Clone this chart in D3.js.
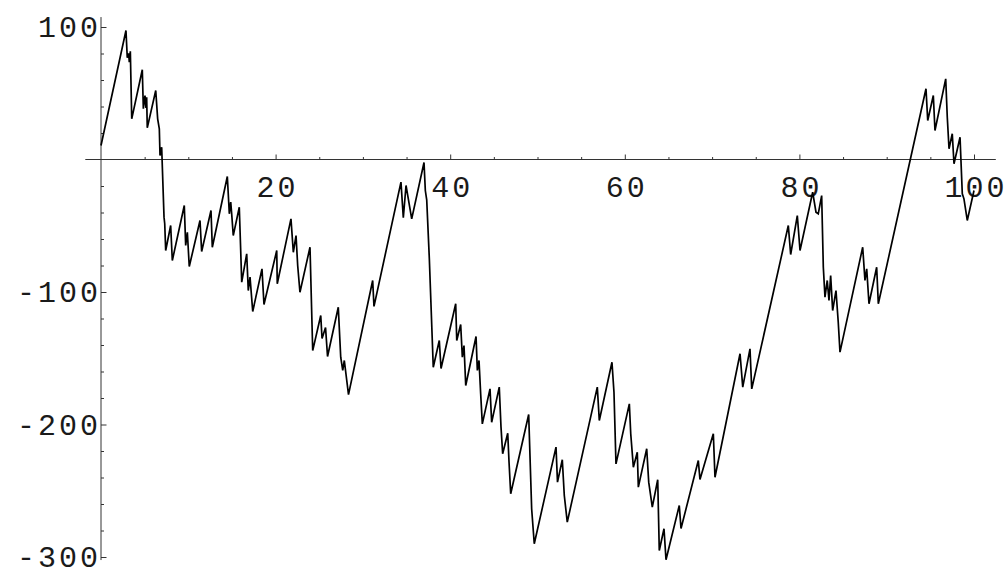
<!DOCTYPE html>
<html>
<head>
<meta charset="utf-8">
<script src="https://cdn.jsdelivr.net/npm/d3@7"></script>
<style>
  html, body { margin: 0; padding: 0; background: #fff; }
  svg { display: block; }
  .lbl { font-family: "Liberation Mono", "DejaVu Sans Mono", monospace; font-size: 30px; fill: #1a1a1a; letter-spacing: 3px; }
</style>
</head>
<body>
<svg id="chart" width="1008" height="578"></svg>
<script>
// Sawtooth walk: x positions and values of each vertex
const xs = [0, 2.86, 3.01, 3.17, 3.24, 3.36, 3.52, 4.73, 4.85, 5.04, 5.15, 5.23, 5.30, 6.27, 6.49, 6.68, 6.76, 6.95,
  7.22, 7.30, 7.41, 7.98, 8.17, 9.54, 9.70, 9.89, 10.11, 11.34, 11.53, 12.60, 12.75, 14.47, 14.70, 14.86, 14.97, 15.15,
  15.84, 16.12, 16.69, 16.87, 17.07, 17.38, 18.44, 18.67, 20.13, 20.19, 21.76, 22.03, 22.34, 22.53, 22.79, 23.94, 24.25,
  25.17, 25.32, 25.72, 25.95, 27.18, 27.46, 27.69, 27.87, 28.35, 31.12, 31.27, 34.36, 34.63, 34.94, 35.59, 37.00, 37.15,
  37.31, 37.61, 38.06, 38.75, 38.95, 40.63, 40.75, 41.20, 41.39, 41.58, 41.78, 42.96, 43.11, 43.30, 43.49, 43.68, 44.56,
  44.75, 45.62, 45.82, 46.01, 46.59, 46.74, 46.93, 48.99, 49.33, 49.63, 52.12, 52.29, 52.84, 53.07, 53.41, 56.85, 57.08,
  58.53, 58.76, 58.99, 60.52, 60.68, 60.98, 61.43, 61.55, 62.51, 62.74, 63.15, 63.77, 63.95, 64.49, 64.72, 66.24, 66.44,
  68.42, 68.61, 70.14, 70.33, 73.20, 73.51, 74.34, 74.54, 78.73, 79.00, 79.76, 80.07, 81.52, 81.90, 82.16, 82.55, 82.74,
  82.93, 83.19, 83.39, 83.58, 83.81, 84.19, 84.45, 84.65, 87.25, 87.51, 87.71, 87.97, 88.85, 89.04, 94.50, 94.70, 95.34,
  95.53, 96.76, 96.94, 97.14, 97.51, 97.71, 98.40, 98.66, 98.85, 99.23, 100];
const ys = [10.6, 97.4, 76.8, 80.2, 73.4, 81.7, 30.7, 67.7, 38.3, 48.3, 39.0, 47.0, 23.9, 52.1, 30.7, 23.2, 3.0, 9.3,
  -43.5, -48.5, -68.7, -49.8, -76.2, -34.7, -64.9, -54.9, -80.8, -46.0, -69.4, -38.5, -66.2, -12.8, -41.0, -32.2, -41.0, -57.4,
  -36.0, -92.6, -71.2, -98.9, -88.8, -114.7, -82.5, -109.4, -68.7, -93.8, -44.8, -70.0, -57.4, -80.0, -100.2, -66.2, -144.2,
  -117.7, -135.1, -126.8, -148.7, -111.5, -149.2, -159.2, -151.7, -177.4, -91.3, -110.9, -17.1, -44.0, -19.6, -44.8, -2.3, -23.4,
  -30.4, -74.9, -156.8, -136.6, -157.7, -108.9, -136.6, -124.5, -149.2, -140.4, -170.6, -133.6, -159.2, -151.7, -176.8, -199.5, -173.1,
  -198.3, -171.8, -202.0, -222.1, -206.6, -228.5, -252.3, -192.5, -263.6, -290.0, -217.1, -243.5, -226.6, -253.6, -273.7, -171.8, -197.0,
  -153.0, -175.6, -229.7, -184.4, -207.0, -232.2, -220.9, -247.3, -218.3, -243.5, -262.4, -241.7, -295.1, -278.7, -302.1, -261.1, -278.5,
  -227.2, -241.5, -207.0, -239.8, -146.6, -171.8, -142.9, -173.1, -49.8, -71.7, -42.3, -68.7, -24.7, -39.8, -41.0, -27.2, -81.3,
  -103.9, -91.3, -106.4, -87.5, -114.0, -98.9, -122.8, -145.4, -66.2, -91.3, -82.5, -108.9, -81.3, -108.9, 53.4, 29.4, 48.3,
  21.9, 60.9, 31.9, 8.1, 19.4, -3.2, 16.8, -25.9, -29.7, -46.0, -23.4];

// Axis ticks and labels
const xMajor = [20, 40, 60, 80, 100];
const xMinor = [5, 10, 15, 25, 30, 35, 45, 50, 55, 65, 70, 75, 85, 90, 95];
const yMajor = [100, -100, -200, -300];
const yMinor = [80, 60, 40, 20, -20, -40, -60, -80, -120, -140, -160, -180, -220, -240, -260, -280];
const xAxisSpan = [-1.8, 102.5];
const yAxisSpan = [-302.3, 107.5];

const svg = d3.select("#chart");
const x = d3.scaleLinear().domain([0, 100]).range([101, 974]);
const y = d3.scaleLinear().domain([-300, 100]).range([557, 27]);

const axisColor = "#333";

// axis lines through the origin
svg.append("line")
  .attr("x1", x(xAxisSpan[0])).attr("x2", x(xAxisSpan[1]))
  .attr("y1", y(0)).attr("y2", y(0))
  .attr("stroke", axisColor).attr("stroke-width", 1);
svg.append("line")
  .attr("x1", x(0)).attr("x2", x(0))
  .attr("y1", y(yAxisSpan[0])).attr("y2", y(yAxisSpan[1]))
  .attr("stroke", axisColor).attr("stroke-width", 1);

function tickOnly(g) {
  g.select(".domain").remove();
  g.selectAll(".tick line").attr("stroke", axisColor);
}

// x ticks point up, labels hang below
svg.append("g").attr("transform", `translate(0,${y(0)})`)
  .call(d3.axisTop(x).tickValues(xMajor).tickSize(5).tickFormat("")).call(tickOnly);
svg.append("g").attr("transform", `translate(0,${y(0)})`)
  .call(d3.axisTop(x).tickValues(xMinor).tickSize(2.5).tickFormat("")).call(tickOnly);
const xl = svg.append("g").attr("transform", `translate(0,${y(0)})`)
  .call(d3.axisBottom(x).tickValues(xMajor).tickSize(0).tickPadding(16).tickFormat(d3.format("d")));
xl.select(".domain").remove();
xl.selectAll("text").attr("class", "lbl").attr("font-size", null).attr("font-family", null).attr("dx", "1.5");

// y ticks point right, labels sit to the left
svg.append("g").attr("transform", `translate(${x(0)},0)`)
  .call(d3.axisRight(y).tickValues(yMajor).tickSize(5.5).tickFormat("")).call(tickOnly);
svg.append("g").attr("transform", `translate(${x(0)},0)`)
  .call(d3.axisRight(y).tickValues(yMinor).tickSize(3).tickFormat("")).call(tickOnly);
const yl = svg.append("g").attr("transform", `translate(${x(0)},0)`)
  .call(d3.axisLeft(y).tickValues(yMajor).tickSize(0).tickPadding(0).tickFormat(d => d < 0 ? "-" + Math.abs(d) : String(d)));
yl.select(".domain").remove();
yl.selectAll("text").attr("class", "lbl").attr("font-size", null).attr("font-family", null);

// the curve
const pts = xs.map((v, i) => [v, ys[i]]);
svg.append("path")
  .datum(pts)
  .attr("d", d3.line().x(d => x(d[0])).y(d => y(d[1])))
  .attr("fill", "none")
  .attr("stroke", "#000")
  .attr("stroke-width", 1.7)
  .attr("stroke-linejoin", "miter")
  .attr("stroke-miterlimit", 4);
</script>
</body>
</html>
